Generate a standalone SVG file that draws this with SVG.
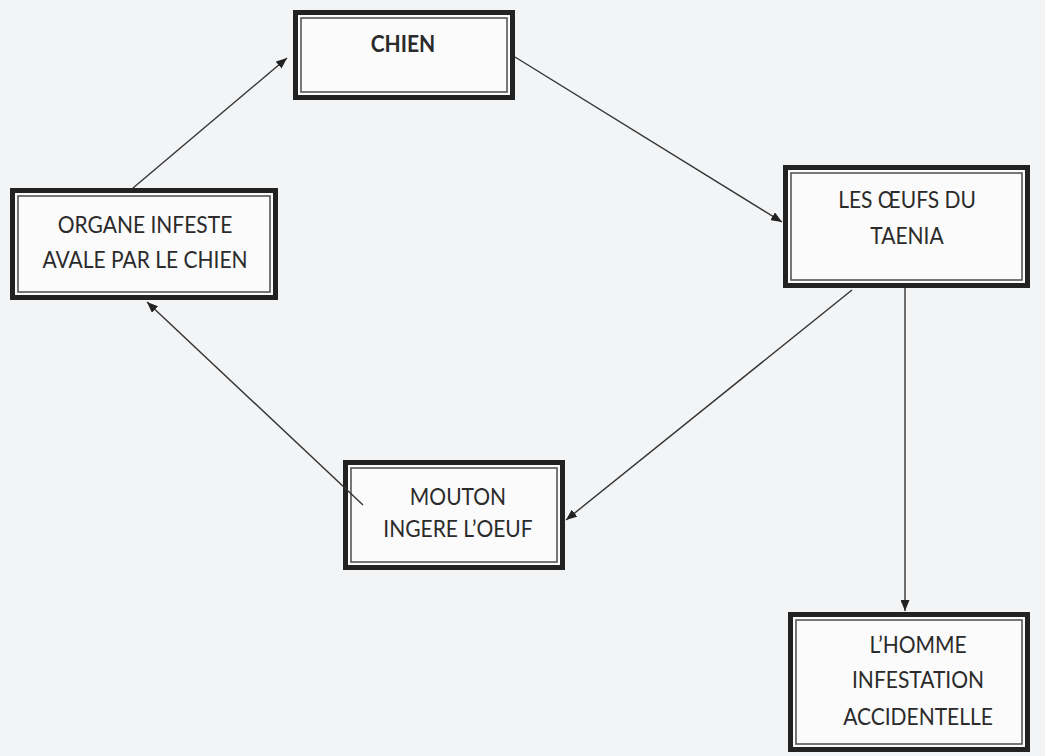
<svg xmlns="http://www.w3.org/2000/svg" width="1045" height="756" viewBox="0 0 1045 756">
<style>
.outer{fill:#fbfbfb;stroke:#222;stroke-width:5}
.inner{fill:none;stroke:#555;stroke-width:1.6}
.t{font-family:Lato,"Liberation Sans",sans-serif;font-size:21px;fill:#2b2b2b;text-anchor:middle}
.b{font-weight:bold}
.c{stroke:#333;stroke-width:1.4;fill:none;marker-end:url(#ah)}
</style>
<defs>
<marker id="ah" viewBox="0 0 11 9" refX="11" refY="4.5" markerWidth="11" markerHeight="9" markerUnits="userSpaceOnUse" orient="auto">
<path d="M0,0 L11,4.5 L0,9 Z" fill="#222"/>
</marker>
</defs>
<rect width="1045" height="756" fill="#f3f4f6"/>
<g id="chien">
<rect class="outer" x="295.5" y="12.5" width="217" height="85"/>
<rect class="inner" x="301" y="18" width="206" height="74"/>
<text class="t b" transform="translate(403,52) scale(1,1.13)">CHIEN</text>
</g>
<g id="organe">
<rect class="outer" x="12.5" y="190.5" width="263" height="107"/>
<rect class="inner" x="18" y="196" width="252" height="96"/>
<text class="t" transform="translate(145,233) scale(1,1.13)">ORGANE INFESTE</text>
<text class="t" transform="translate(145,268) scale(1,1.13)">AVALE PAR LE CHIEN</text>
</g>
<g id="oeufs">
<rect class="outer" x="785.5" y="167.5" width="242" height="118"/>
<rect class="inner" x="791" y="173" width="231" height="107"/>
<text class="t" transform="translate(907,208) scale(1,1.13)">LES ŒUFS DU</text>
<text class="t" transform="translate(907,244) scale(1,1.13)">TAENIA</text>
</g>
<g id="mouton">
<rect class="outer" x="345.5" y="462.5" width="217" height="105"/>
<rect class="inner" x="351" y="468" width="206" height="94"/>
<text class="t" transform="translate(458,505) scale(1,1.13)">MOUTON</text>
<text class="t" transform="translate(458,537) scale(1,1.13)">INGERE L’OEUF</text>
</g>
<g id="homme">
<rect class="outer" x="790.5" y="614.5" width="237" height="135"/>
<rect class="inner" x="796" y="620" width="226" height="124"/>
<text class="t" transform="translate(918,653) scale(1,1.13)">L’HOMME</text>
<text class="t" transform="translate(918,688) scale(1,1.13)">INFESTATION</text>
<text class="t" transform="translate(918,725) scale(1,1.13)">ACCIDENTELLE</text>
</g>
<g id="connectors">
<line class="c" x1="133" y1="188" x2="287" y2="58"/>
<line class="c" x1="515" y1="57" x2="782" y2="222"/>
<line class="c" x1="852" y1="290" x2="566" y2="520"/>
<line class="c" x1="363" y1="505" x2="147" y2="302"/>
<line class="c" x1="905" y1="288" x2="905" y2="611"/>
</g>
</svg>
